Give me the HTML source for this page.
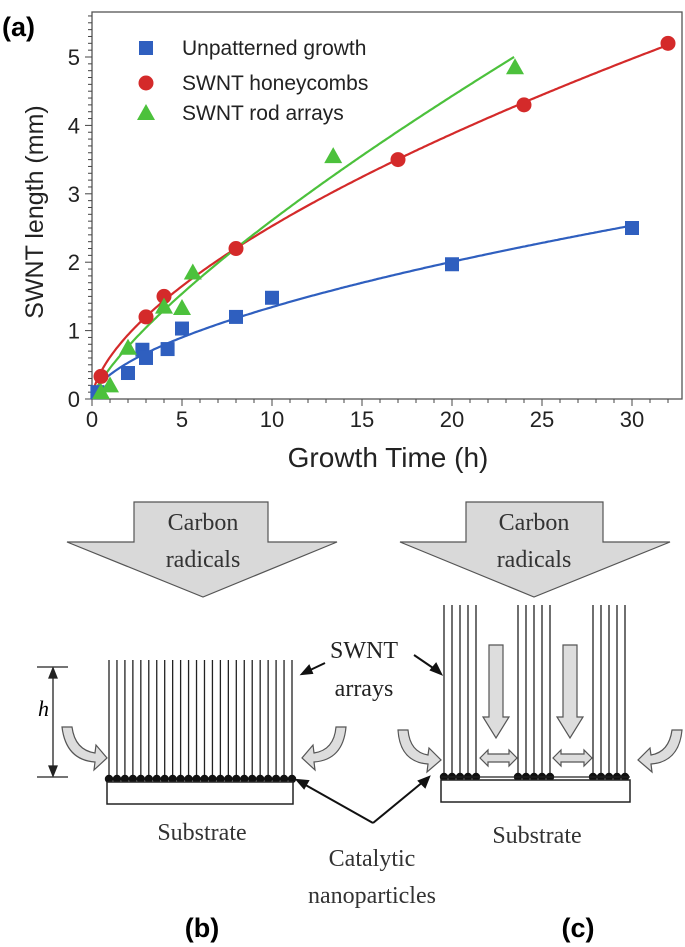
<!DOCTYPE html>
<html><head><meta charset="utf-8"><style>
body{margin:0;background:#fff;}
svg{display:block}
.sans{font-family:"Liberation Sans",Arial,sans-serif}
.serif{font-family:"Liberation Serif","Times New Roman",serif}
</style></head><body>
<svg width="685" height="947" viewBox="0 0 685 947" xmlns="http://www.w3.org/2000/svg">
<text x="2" y="36" class="sans" font-size="27" font-weight="bold">(a)</text>
<g id="chart"></g>
<g id="diagram">
  <polygon points="134,502 268,502 268,542 337,542 203,597 67,542 134,542" fill="#d9d9d9" stroke="#555" stroke-width="1.2"/>
  <text x="203" y="530" text-anchor="middle" class="serif" font-size="24" fill="#333">Carbon</text>
  <text x="203" y="567" text-anchor="middle" class="serif" font-size="24" fill="#333">radicals</text>
  <polygon points="466,502 603,502 603,542 670,542 534,597 400,542 466,542" fill="#d9d9d9" stroke="#555" stroke-width="1.2"/>
  <text x="534" y="530" text-anchor="middle" class="serif" font-size="24" fill="#333">Carbon</text>
  <text x="534" y="567" text-anchor="middle" class="serif" font-size="24" fill="#333">radicals</text>
  <g id="tubesB"></g>
  <g id="tubesC"></g>
  <rect x="107" y="782" width="186" height="22" fill="#fff" stroke="#222" stroke-width="1.5"/>
  <rect x="441" y="780" width="189" height="22" fill="#fff" stroke="#222" stroke-width="1.5"/>
  <line x1="441" y1="777" x2="630" y2="777" stroke="#222" stroke-width="1.2"/>
  <g stroke="#222" stroke-width="1.3">
    <line x1="37" y1="667" x2="68" y2="667"/><line x1="37" y1="777" x2="68" y2="777"/>
    <line x1="53" y1="669" x2="53" y2="775"/>
    <polygon points="53,668 49,678 57,678" fill="#222"/><polygon points="53,776 49,766 57,766" fill="#222"/>
  </g>
  <text x="49" y="716" class="serif" font-size="22" font-style="italic" text-anchor="end">h</text>
  <g fill="#ddd" stroke="#555" stroke-width="1.2">
    <polygon points="489,645 503,645 503,717 509,717 496,738 483,717 489,717"/>
    <polygon points="563,645 577,645 577,717 583,717 570,738 557,717 563,717"/>
    <polygon points="480,758 488,750 488,754 509,754 509,750 517,758 509,766 509,762 488,762 488,766"/>
    <polygon points="553,758 561,750 561,754 584,754 584,750 592,758 584,766 584,762 561,762 561,766"/>
    <path d="M62,727 Q66,760 95,762 L94,770 L107,758 L96,745 L95,753 Q75,750 72,727 Z"/>
    <path d="M346,727 Q343,760 314,762 L315,770 L302,758 L313,745 L314,753 Q334,750 336,727 Z"/>
    <path d="M398,730 Q400,762 428,764 L427,772 L441,760 L429,748 L428,755 Q410,752 408,730 Z"/>
    <path d="M682,730 Q679,762 651,764 L652,772 L638,760 L650,748 L651,755 Q669,752 672,730 Z"/>
  </g>
  <text x="364" y="658" text-anchor="middle" class="serif" font-size="24" fill="#222">SWNT</text>
  <text x="364" y="696" text-anchor="middle" class="serif" font-size="24" fill="#222">arrays</text>
  <g stroke="#111" stroke-width="2" fill="#111">
    <line x1="325" y1="663" x2="306" y2="672"/><polygon points="302,674 309,666 312,673"/>
    <line x1="414" y1="655" x2="436" y2="670"/><polygon points="441,674 431,670 436,664"/>
    <line x1="373" y1="823" x2="302" y2="783"/><polygon points="297,780 308,781 304,788"/>
    <line x1="373" y1="823" x2="424" y2="781"/><polygon points="429,777 425,787 419,781"/>
  </g>
  <text x="202" y="840" text-anchor="middle" class="serif" font-size="24" fill="#333">Substrate</text>
  <text x="537" y="843" text-anchor="middle" class="serif" font-size="24" fill="#333">Substrate</text>
  <text x="372" y="866" text-anchor="middle" class="serif" font-size="24" fill="#333">Catalytic</text>
  <text x="372" y="903" text-anchor="middle" class="serif" font-size="24" fill="#333">nanoparticles</text>
  <text x="202" y="937" text-anchor="middle" class="sans" font-size="27" font-weight="bold">(b)</text>
  <text x="578" y="937" text-anchor="middle" class="sans" font-size="27" font-weight="bold">(c)</text>
</g>
</svg>
<script>
const NS="http://www.w3.org/2000/svg";
const xTicks=[0,5,10,15,20,25,30];
const yTicks=[0,1,2,3,4,5];
const seriesNames=["Unpatterned growth","SWNT honeycombs","SWNT rod arrays"];
const unpatternedX=[0.3,2,2.8,3,4.2,5,8,10,20,30];
const unpatternedY=[0.1,0.38,0.72,0.6,0.73,1.03,1.2,1.48,1.97,2.5];
const honeycombX=[0.5,3,4,8,17,24,32];
const honeycombY=[0.33,1.2,1.5,2.2,3.5,4.3,5.2];
const rodX=[0.5,1,2,4,5,5.6,13.4,23.5];
const rodY=[0.1,0.2,0.75,1.35,1.33,1.85,3.55,4.85];

const X0=92,X1=682,Y0=399,Y1=12;
const xs=v=>X0+v*18;
const ys=v=>Y0-v*68.4;
function mk(tag,attrs,parent){const e=document.createElementNS(NS,tag);for(const k in attrs)e.setAttribute(k,attrs[k]);parent.appendChild(e);return e;}
const g=document.getElementById('chart');
let fr=mk('rect',{x:X0,y:Y1,width:X1-X0,height:Y0-Y1,fill:'none',stroke:'#555','stroke-width':1.3},g);


for(let t=0;t<=32;t+=1){const major=t%5===0;mk('line',{x1:xs(t),x2:xs(t),y1:Y0,y2:Y0+(major?7:4),stroke:'#444','stroke-width':1},g);}
for(let t=0;t<=5.6;t+=0.1){const major=Math.abs(t-Math.round(t))<1e-6;mk('line',{x1:X0,x2:X0-(major?7:4),y1:ys(t),y2:ys(t),stroke:'#444','stroke-width':1},g);}
xTicks.forEach(t=>{const e=mk('text',{x:xs(t),y:Y0+28,'text-anchor':'middle','font-size':22,class:'sans',fill:'#222'},g);e.textContent=t;

});
yTicks.forEach(t=>{const e=mk('text',{x:X0-12,y:ys(t)+8,'text-anchor':'end','font-size':22,class:'sans',fill:'#222'},g);e.textContent=t;

});
let xt=mk('text',{x:388,y:467,'text-anchor':'middle','font-size':28,class:'sans',fill:'#222'},g);xt.textContent="Growth Time (h)";


let yt=mk('text',{x:0,y:0,'text-anchor':'middle','font-size':25,class:'sans',fill:'#222',transform:'translate(43,212) rotate(-90)'},g);yt.textContent="SWNT length (mm)";



function fit(X,Y){let best=[0,0.5],bestE=Infinity;
 for(let b=0.3;b<=1.0;b+=0.002){let num=0,den=0;X.forEach((x,i)=>{const p=Math.pow(x,b);num+=Y[i]*p;den+=p*p;});
  const a=num/den;let e=0;X.forEach((x,i)=>{const r=Y[i]-a*Math.pow(x,b);e+=r*r;});
  if(e<bestE){bestE=e;best=[a,b];}}
 return best;}
const series=[
 {x:unpatternedX,y:unpatternedY,c:'#2f5fbf',shape:'sq',name:'unpatterned'},
 {x:honeycombX,y:honeycombY,c:'#d42a2a',shape:'ci',name:'honeycomb'},
 {x:rodX,y:rodY,c:'#4cc13c',shape:'tr',name:'rod-array'}];
function marker(s,x,y,parent){let e;
 if(s.shape==='sq')e=mk('rect',{x:x-7,y:y-7,width:14,height:14,fill:s.c},parent);
 else if(s.shape==='ci')e=mk('circle',{cx:x,cy:y,r:7.5,fill:s.c},parent);
 else e=mk('polygon',{points:`${x},${y-9} ${x-9},${y+7} ${x+9},${y+7}`,fill:s.c},parent);
 return e;}
series.forEach(s=>{const [a,b]=fit(s.x,s.y);const xmax=Math.max(...s.x);let d='';
 for(let t=0.15;t<=xmax+0.01;t+=0.1){d+=(d?'L':'M')+xs(t).toFixed(1)+','+ys(a*Math.pow(t,b)).toFixed(1);}
 const p=mk('path',{d:d,fill:'none',stroke:s.c,'stroke-width':2.2},g);
 
 });
series.forEach(s=>{s.x.forEach((x,i)=>{const e=marker(s,xs(x),ys(s.y[i]),g);
 
 });});
const legY=[48,83,113];
series.forEach((s,i)=>{const m=marker(s,146,legY[i],g);
 
 
 const t=mk('text',{x:182,y:legY[i]+7,'font-size':21,class:'sans',fill:'#222'},g);t.textContent=seriesNames[i];
 
 });

const tb=document.getElementById('tubesB');
for(let i=0;i<24;i++){const x=109+i*(183/23);mk('line',{x1:x,x2:x,y1:660,y2:778,stroke:'#222','stroke-width':1.3},tb);
 mk('circle',{cx:x,cy:779,r:4.2,fill:'#111'},tb);}
const tc=document.getElementById('tubesC');
[444,518,593].forEach(g0=>{for(let i=0;i<5;i++){const x=g0+i*8;mk('line',{x1:x,x2:x,y1:605,y2:776,stroke:'#222','stroke-width':1.3},tc);
 mk('circle',{cx:x,cy:777,r:4.2,fill:'#111'},tc);}});
</script>
</body></html>
